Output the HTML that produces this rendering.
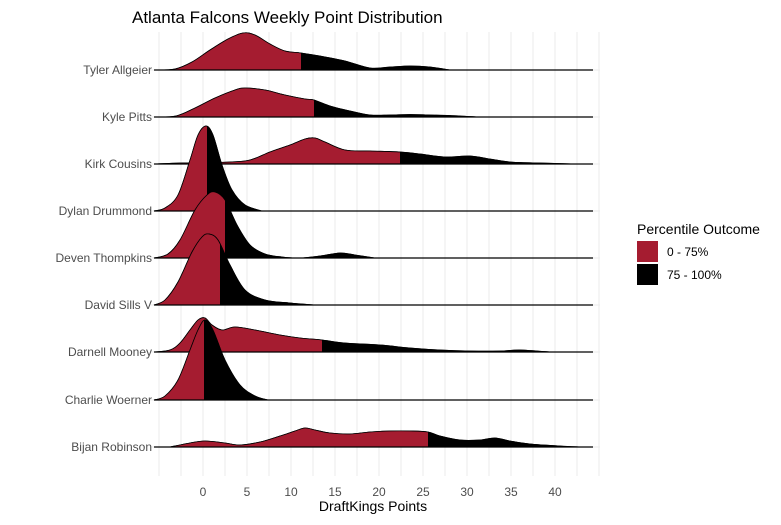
<!DOCTYPE html>
<html><head><meta charset="utf-8"><style>
body{margin:0;background:#fff}
svg text{font-family:"Liberation Sans",Arial,sans-serif}
</style></head><body>
<svg id="s" width="781" height="520" xmlns="http://www.w3.org/2000/svg">
<rect width="781" height="520" fill="#fff"/>
<g id="grid" stroke="#ebebeb" stroke-width="1"></g>
<g id="ridges"></g>
<text x="132" y="23" font-size="17" fill="#000">Atlanta Falcons Weekly Point Distribution</text>
<g font-size="12" fill="#4d4d4d" text-anchor="end">
<text x="152" y="74">Tyler Allgeier</text>
<text x="152" y="121">Kyle Pitts</text>
<text x="152" y="168">Kirk Cousins</text>
<text x="152" y="215">Dylan Drummond</text>
<text x="152" y="262">Deven Thompkins</text>
<text x="152" y="309">David Sills V</text>
<text x="152" y="356">Darnell Mooney</text>
<text x="152" y="404">Charlie Woerner</text>
<text x="152" y="451">Bijan Robinson</text>
</g>
<g font-size="12" fill="#4d4d4d" text-anchor="middle">
<text x="203" y="496">0</text><text x="247" y="496">5</text><text x="291" y="496">10</text>
<text x="335" y="496">15</text><text x="379" y="496">20</text><text x="423" y="496">25</text>
<text x="467" y="496">30</text><text x="511" y="496">35</text><text x="555" y="496">40</text>
</g>
<text x="373" y="511" font-size="14" text-anchor="middle" fill="#000">DraftKings Points</text>
<text x="637" y="234" font-size="14" fill="#000">Percentile Outcome</text>
<rect x="637" y="241" width="21" height="21" fill="#a51c30"/>
<rect x="637" y="264" width="21" height="21" fill="#000"/>
<text x="667" y="256" font-size="12" fill="#000">0 - 75%</text>
<text x="667" y="279" font-size="12" fill="#000">75 - 100%</text>
</svg>
<script>
var NS="http://www.w3.org/2000/svg";
var g=document.getElementById("grid");
function ln(par,x1,y1,x2,y2,c,w){var l=document.createElementNS(NS,"line");l.setAttribute("x1",x1);l.setAttribute("y1",y1);l.setAttribute("x2",x2);l.setAttribute("y2",y2);l.setAttribute("stroke",c);l.setAttribute("stroke-width",w);par.appendChild(l);}
for(var x=159;x<=600;x+=22)ln(g,x,32,x,476,"#ebebeb",1);
var bases=[70,117,164,211,258,305,352,400,447];
bases.forEach(function(b){ln(g,150,b,600,b,"#ebebeb",1);});
var R=[
[70,301,[[154,70],[175,69],[192,62],[210,50],[228,39],[243,33],[255,35],[270,44],[285,51],[301,53],[320,56],[345,61],[370,68],[390,67],[410,66],[430,67],[450,70]]],
[117,314,[[154,117],[176,116],[195,108],[215,98],[235,90],[245,88],[265,90],[285,95],[305,99],[314,100],[330,106],[350,111],[370,115],[390,115],[410,114.5],[430,115],[450,115.5],[478,117]]],
[164,400,[[154,164],[180,163],[200,163],[230,162],[250,160],[270,152],[290,145],[305,139],[315,138],[325,142],[345,150],[370,151],[400,152],[420,154],[445,157],[470,156],[490,159],[510,162],[540,163],[575,164]]],
[211,207,[[154,211],[165,208],[178,195],[190,160],[198,135],[206,126],[213,135],[222,165],[232,190],[245,205],[262,211]]],
[258,225,[[154,258],[168,254],[180,240],[195,210],[207,195],[215,192],[225,200],[237,225],[250,245],[265,254],[282,257],[300,258],[320,256],[340,253],[355,255],[375,258]]],
[305,220,[[154,305],[165,300],[178,282],[192,252],[202,237],[209,234],[218,240],[230,265],[245,290],[265,300],[290,303],[315,305]]],
[352,322,[[154,352],[170,350],[180,343],[190,330],[198,320],[205,318],[212,325],[222,330],[235,327],[255,330],[280,335],[300,338],[322,340],[345,343],[380,345],[410,348],[440,350],[470,351],[500,351],[520,350],[550,352]]],
[400,204,[[154,400],[165,396],[178,380],[190,350],[198,330],[205,320],[213,330],[225,360],[240,385],[255,396],[268,400]]],
[447,428,[[170,447],[190,443],[205,441],[225,443],[240,445],[260,442],[280,436],[295,431],[305,428],[315,430],[330,433],[350,434],[370,432],[390,431],[410,431],[428,432],[440,436],[460,440],[480,440],[495,438],[510,441],[530,444],[560,446],[580,447]]]
];
function smooth(p){var d="M"+p[0][0]+","+p[0][1];for(var i=0;i<p.length-1;i++){var p0=p[Math.max(i-1,0)],p1=p[i],p2=p[i+1],p3=p[Math.min(i+2,p.length-1)];
var c1x=p1[0]+(p2[0]-p0[0])/6,c1y=p1[1]+(p2[1]-p0[1])/6,c2x=p2[0]-(p3[0]-p1[0])/6,c2y=p2[1]-(p3[1]-p1[1])/6;
d+=" C"+c1x+","+c1y+" "+c2x+","+c2y+" "+p2[0]+","+p2[1];}return d;}
var rg=document.getElementById("ridges"),defs=document.createElementNS(NS,"defs");document.getElementById("s").appendChild(defs);
R.forEach(function(r,i){var b=r[0],t=r[1],d=smooth(r[2])+" Z";
var cp=document.createElementNS(NS,"clipPath");cp.setAttribute("id","c"+i);var cr=document.createElementNS(NS,"rect");cr.setAttribute("x",0);cr.setAttribute("y",0);cr.setAttribute("width",t);cr.setAttribute("height",520);cp.appendChild(cr);defs.appendChild(cp);
var p1=document.createElementNS(NS,"path");p1.setAttribute("d",d);p1.setAttribute("fill","#000");p1.setAttribute("stroke","#000");p1.setAttribute("stroke-width","0.8");rg.appendChild(p1);
var p2=document.createElementNS(NS,"path");p2.setAttribute("d",d);p2.setAttribute("fill","#a51c30");p2.setAttribute("clip-path","url(#c"+i+")");rg.appendChild(p2);
var p3=document.createElementNS(NS,"path");p3.setAttribute("d",smooth(r[2]));p3.setAttribute("fill","none");p3.setAttribute("stroke","#000");p3.setAttribute("stroke-width","0.8");rg.appendChild(p3);
ln(rg,154,b,593,b,"#000",1.2);});
</script>
</body></html>
